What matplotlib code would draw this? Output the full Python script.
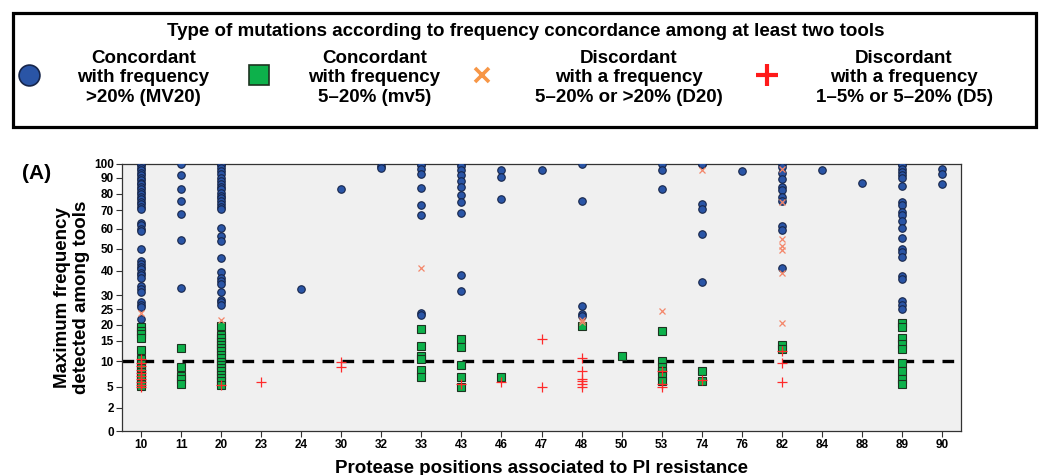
import numpy as np
import matplotlib
matplotlib.use("Agg")
import matplotlib.pyplot as plt
from matplotlib.lines import Line2D
from matplotlib.patches import Rectangle

plt.rcParams['font.family'] = ['Liberation Sans', 'DejaVu Sans']
plt.rcParams['font.weight'] = 'bold'

# ---------------- data ----------------
categories = [10, 11, 20, 23, 24, 30, 32, 33, 43, 46, 47, 48, 50, 53, 74, 76, 82, 84, 88, 89, 90]

mv20 = {  # concordant > 20 %
    10: [100, 98.8, 97.2, 95.3, 93.7, 91.9, 90.3, 88.7, 87, 86, 84.5, 82.8, 81, 79.6, 78.2, 76.6, 75,
         73.6, 72.2, 70.6, 63.2, 61.8, 60.1, 58.8, 50.1, 44.3, 43.1, 41.7, 40.5, 39.1, 38, 37, 33.6,
         32.6, 31.2, 27.5, 26.7, 25.9, 21.9],
    11: [99.5, 92.1, 82.8, 75.4, 67.8, 54.3, 33.1],
    20: [100, 98.8, 96.8, 94.8, 92.5, 90.3, 88, 86.4, 84.5, 82.8, 80.6, 78.8, 77.4, 75.4, 73.6, 72.2,
         70.6, 60.5, 56.6, 54.0, 45.7, 39.3, 37, 35.6, 34.7, 31.2, 28.4, 27.5, 26.7],
    24: [32.7],
    30: [83.2],
    32: [98.4, 96.6],
    33: [100, 98.8, 96.5, 92.5, 83.8, 73, 67.7, 23.8, 23.3],
    43: [99.8, 98.4, 95.4, 92.1, 88, 84.3, 79.4, 75.2, 68.4, 38, 31.9],
    46: [95.6, 91, 76.6],
    47: [95.6],
    48: [99.5, 75.8, 26.1, 23.6, 22.9],
    53: [99.8, 95.6, 82.8],
    74: [100, 99.5, 74, 70.6, 57.5, 35.4],
    76: [94.9],
    82: [99.8, 97.9, 93.3, 89.2, 84.3, 82.4, 77.7, 75.6, 61.4, 59.3, 41.2],
    84: [95.2],
    88: [87],
    89: [100, 98.8, 96.5, 94.2, 91.9, 90.3, 84.9, 75, 73, 69.1, 67.3, 64.1, 60.5, 55.2, 50, 48.4,
         46.3, 37.8, 36.5, 27.8, 26.7, 25.1],
    90: [96.5, 92.5, 86.4],
}

mv5 = {  # concordant 5-20 %
    10: [19.5, 18.2, 17, 15.8, 12.8, 10.5, 9.5, 8.7, 7.8, 7.0, 6.3, 5.6, 5.1],
    11: [13.1, 8.9, 7.0, 6.4, 5.6],
    20: [19.6, 16.9, 15.9, 14.8, 14.0, 13.2, 12.4, 11.6, 10.7, 9.9, 9.3, 8.6, 8.0, 7.3, 6.7, 6.0, 5.3],
    33: [18.7, 13.8, 11.3, 10.5, 8.3, 6.9],
    43: [15.6, 13.4, 9.3, 6.9, 5.0],
    46: [6.9],
    48: [19.8],
    50: [11.2],
    53: [18.0, 10.1, 8.9, 8.0, 7.0, 6.1],
    74: [8.1, 6.0],
    82: [14.0, 12.9],
    89: [20.6, 19.3, 16.0, 14.3, 12.9, 9.7, 8.0, 6.5, 5.5],
}

d20 = {  # discordant 5-20 % or > 20 %
    10: [23.8],
    20: [21.7],
    33: [41.2],
    48: [21.7, 20.8],
    53: [24.4],
    74: [95.6],
    82: [96.5, 75, 55, 51.6, 49.4, 39, 20.6],
}

d5 = {  # discordant 1-5 % or 5-20 %
    10: [10.5, 9.7, 9.0, 8.3, 7.6, 7.0, 6.4, 5.9, 5.4, 5.0],
    20: [5.3],
    23: [5.9],
    30: [9.8, 8.8],
    43: [5.6],
    46: [5.8],
    47: [15.6, 5.0],
    48: [10.8, 8.0, 6.5, 6.0, 5.5, 5.0],
    53: [8.0, 5.6, 4.9],
    74: [6.3],
    82: [12.6, 9.7, 5.8],
}

y_ticks = [0, 2, 5, 10, 15, 20, 25, 30, 40, 50, 60, 70, 80, 90, 100]
threshold = 10

legend_title = "Type of mutations according to frequency concordance among at least two tools"
legend_labels = ["Concordant\nwith frequency\n>20% (MV20)",
                 "Concordant\nwith frequency\n5\u201320% (mv5)",
                 "Discordant\nwith a frequency\n5\u201320% or >20% (D20)",
                 "Discordant\nwith a frequency\n1\u20135% or 5\u201320% (D5)"]

# ---------------- y scale (non-linear axis of the original) ----------------
_scale_v = np.array([0, 2, 5, 10, 15, 20, 25, 30, 40, 50, 60, 70, 80, 90, 100], float)
_scale_f = np.array([0, 0.0874, 0.1661, 0.2613, 0.3375, 0.3963, 0.4548, 0.5073, 0.5999,
                     0.6813, 0.7563, 0.8249, 0.8875, 0.946, 1.0])


def fwd(v):
    return np.interp(v, _scale_v, _scale_f)


def inv(f):
    return np.interp(f, _scale_f, _scale_v)


# ---------------- styles ----------------
styles = [
    dict(marker='o', linestyle='none', markerfacecolor='#2a55a6', markeredgecolor='#16254a',
         markeredgewidth=0.8, markersize=5.4),
    dict(marker='s', linestyle='none', markerfacecolor='#0db14b', markeredgecolor='#1d3320',
         markeredgewidth=0.8, markersize=5.2),
    dict(marker='x', linestyle='none', color='#f4876a', markeredgewidth=0.9, markersize=4.2),
    dict(marker='+', linestyle='none', color='#ff2a2a', markeredgewidth=0.9, markersize=6.5),
]
legend_styles = [
    dict(marker='o', linestyle='none', markerfacecolor='#2a55a6', markeredgecolor='#16254a',
         markeredgewidth=1.2, markersize=15),
    dict(marker='s', linestyle='none', markerfacecolor='#0db14b', markeredgecolor='#1d3320',
         markeredgewidth=1.2, markersize=14),
    dict(marker='x', linestyle='none', color='#f79646', markeredgewidth=2.6, markersize=10),
    dict(marker='+', linestyle='none', color='#ff1a1a', markeredgewidth=3.0, markersize=16),
]

W, H = 1044, 475
fig = plt.figure(figsize=(W / 100, H / 100), dpi=100)


def px(x, y):
    return x / W, 1 - y / H


ax = fig.add_axes([122 / W, 1 - 431 / H, (961 - 122) / W, (431 - 163.5) / H])
ax.set_facecolor('#f0f0f0')
ax.set_yscale('function', functions=(fwd, inv))

xpos = {c: i for i, c in enumerate(categories)}
for series, st in zip([mv20, mv5, d20, d5], styles):
    xs, ys = [], []
    for cat, vals in series.items():
        xs += [xpos[cat]] * len(vals)
        ys += vals
    ax.plot(xs, ys, **st, zorder=3)

ax.axhline(threshold, color='black', lw=2.4, dashes=(3.5, 2.5), zorder=2)

ax.set_xlim(-0.48, len(categories) - 1 + 0.48)
ax.set_ylim(0, 100)
ax.set_xticks(range(len(categories)))
ax.set_xticklabels([str(c) for c in categories], fontsize=8.5, fontweight='bold')
ax.set_yticks(y_ticks)
ax.set_yticklabels([str(t) for t in y_ticks], fontsize=8.5, fontweight='bold')
ax.yaxis.set_minor_locator(matplotlib.ticker.NullLocator())
ax.tick_params(axis='both', direction='out', length=4, width=0.8, color='#333333', pad=2)
for s in ax.spines.values():
    s.set_color('#333333')
    s.set_linewidth(0.9)

ax.set_ylabel("Maximum frequency\ndetected among tools", fontsize=13.5, fontweight='bold',
              labelpad=3, linespacing=1.1)
ax.set_xlabel("Protease positions associated to PI resistance", fontsize=13.5,
              fontweight='bold', labelpad=6)

fig.text(*px(22, 173), "(A)", fontsize=15, fontweight='bold', va='center', ha='left')

# ---------------- legend box ----------------
x0, y0 = px(13, 127)
x1, y1 = px(1036, 13)
fig.add_artist(Rectangle((x0, y0), x1 - x0, y1 - y0, transform=fig.transFigure,
                         fill=False, edgecolor='black', linewidth=2.3))
fig.text(*px(526, 31), legend_title, fontsize=13.5, fontweight='bold', ha='center', va='center')

marker_x = [29, 259, 482, 767]
text_x = [143.5, 374.5, 629, 904]
for mx, tx, lab, st in zip(marker_x, text_x, legend_labels, legend_styles):
    fx, fy = px(mx, 75)
    fig.add_artist(Line2D([fx], [fy], transform=fig.transFigure, **st))
    fig.text(*px(tx, 78), lab, fontsize=13.5, fontweight='bold', ha='center', va='center',
             multialignment='center', linespacing=1.2)

fig.savefig("out.png", dpi=100)
